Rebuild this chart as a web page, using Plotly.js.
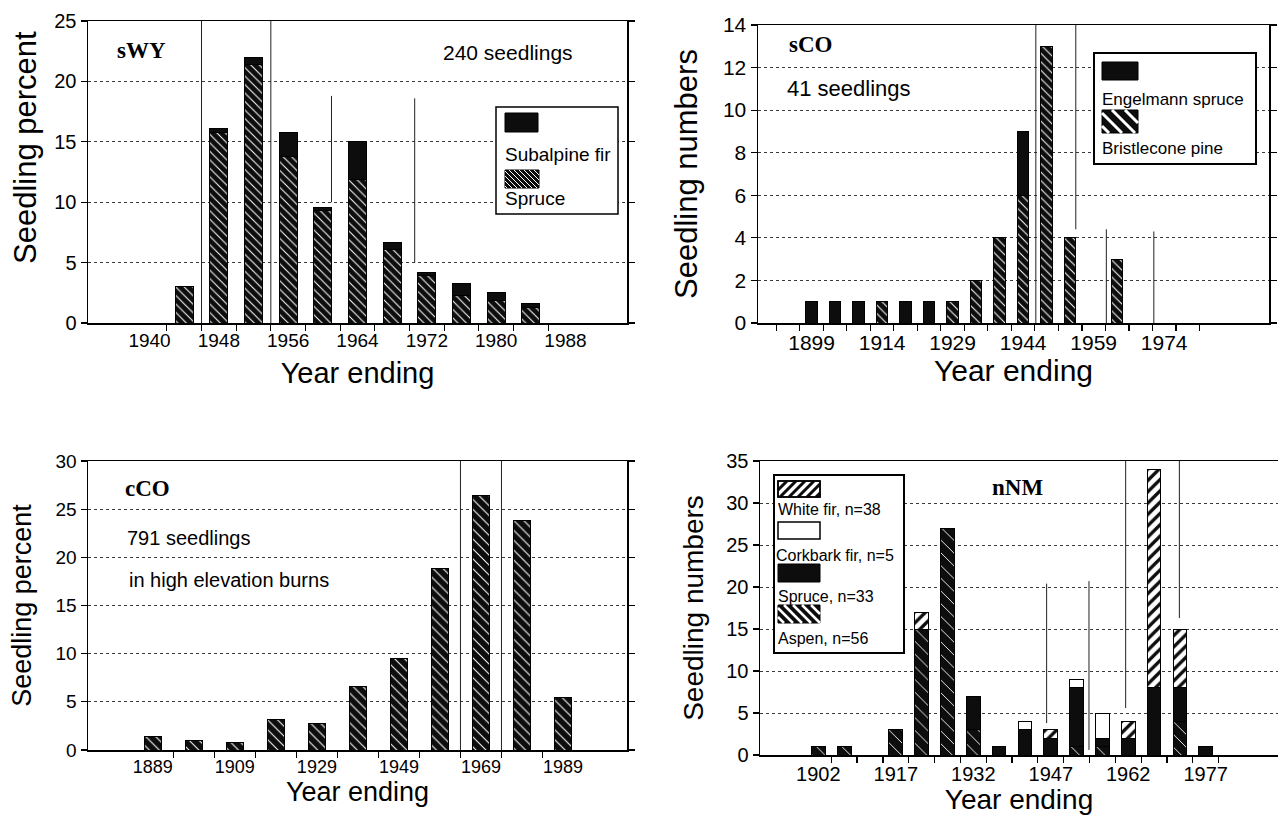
<!DOCTYPE html>
<html><head><meta charset="utf-8">
<script src="https://cdn.plot.ly/plotly-3.0.1.min.js"></script>
<style>html,body{margin:0;padding:0;background:#fff}#chart{width:1278px;height:819px}</style>
</head><body><div id="chart"></div>
<script>
// ---------------- data ----------------
// sWY (percent)
const yearsWY = [1944, 1948, 1952, 1956, 1960, 1964, 1968, 1972, 1976, 1980, 1984];
const spruceWY = [3.0, 15.8, 21.4, 13.8, 9.3, 11.9, 6.1, 3.9, 2.3, 1.9, 1.3];
const subalpineFirWY = [0, 0.3, 0.6, 2.0, 0.3, 3.1, 0.6, 0.3, 1.0, 0.6, 0.3];
const tickYearsWY = [1940, 1948, 1956, 1964, 1972, 1980, 1988];
const markYearsWY = [1946, 1954, 1961, 1970.6];
const markFromWY = [0, 0, 10, 5];
const markToWY = [25, 25, 18.8, 18.6];

// sCO (numbers)
const yearsSCO = [1899, 1904, 1909, 1914, 1919, 1924, 1929, 1934, 1939, 1944, 1949, 1954, 1959, 1964];
const engelmannSCO = [1, 1, 1, 0, 1, 1, 0, 0, 0, 3, 0, 0, 0, 0];
const bristleconeSCO = [0, 0, 0, 1, 0, 0, 1, 2, 4, 6, 13, 4, 0, 3];
const tickYearsSCO = [1899, 1914, 1929, 1944, 1959, 1974];
const markYearsSCO = [1946.7, 1955.2, 1961.7, 1971.8];
const markFromSCO = [0, 4.4, 0, 0];
const markToSCO = [14, 14, 4.4, 4.3];

// cCO (percent)
const yearsCCO = [1889, 1899, 1909, 1919, 1929, 1939, 1949, 1959, 1969, 1979, 1989];
const percentCCO = [1.45, 0.95, 0.8, 3.2, 2.75, 6.55, 9.55, 18.85, 26.45, 23.85, 5.45];
const tickYearsCCO = [1889, 1909, 1929, 1949, 1969, 1989];
const markYearsCCO = [1964, 1974];
const markFromCCO = [0, 0];
const markToCCO = [30, 30];

// nNM (numbers)
const yearsNNM = [1902, 1907, 1912, 1917, 1922, 1927, 1932, 1937, 1942, 1947, 1952, 1957, 1962, 1967, 1972, 1977];
const aspenNNM     = [1, 1, 0, 3, 15, 27, 3, 0, 0, 0, 1, 1, 0, 0, 4, 0];
const spruceNNM    = [0, 0, 0, 0, 0, 0, 4, 1, 3, 2, 7, 1, 2, 8, 4, 1];
const corkbarkNNM  = [0, 0, 0, 0, 0, 0, 0, 0, 1, 0, 1, 3, 0, 0, 0, 0];
const whiteFirNNM  = [0, 0, 0, 0, 2, 0, 0, 0, 0, 1, 0, 0, 2, 26, 7, 0];
const tickYearsNNM = [1902, 1917, 1932, 1947, 1962, 1977];
const markYearsNNM = [1946.2, 1954.4, 1961.5, 1971.9];
const markFromNNM = [3.8, 0.6, 5.6, 16.3];
const markToNNM = [20.4, 20.7, 35, 35];

// ---------------- helpers ----------------
const W = 1278, H = 819;
const px = v => v / W;
const py = v => 1 - v / H;
const nz = arr => arr.map(v => (v === 0 ? null : v));
const steps = (a, b, s) => { const o = []; for (let v = a; v <= b + 1e-9; v += s) o.push(v); return o; };

const SANS = 'Liberation Sans, Arial, sans-serif';
const SERIF = 'Liberation Serif, Times New Roman, serif';
const INK = '#0d0d0d';

function hatchBar(size, sol) {
  return {shape: '\\', bgcolor: INK, fgcolor: '#fff', size: size, solidity: sol, fillmode: 'replace'};
}

function bar(x, y, xa, ya, width, marker) {
  return {type: 'bar', x: x, y: nz(y), xaxis: xa, yaxis: ya, width: width,
          marker: Object.assign({line: {color: '#000', width: 1}}, marker),
          hoverinfo: 'x+y', showlegend: false};
}

const traces = [
  bar(yearsWY, spruceWY, 'x', 'y', 2.1, {color: INK, pattern: hatchBar(6, 0.17)}),
  bar(yearsWY, subalpineFirWY, 'x', 'y', 2.1, {color: INK}),
  bar(yearsSCO, bristleconeSCO, 'x2', 'y2', 2.45, {color: INK, pattern: hatchBar(6, 0.17)}),
  bar(yearsSCO, engelmannSCO, 'x2', 'y2', 2.45, {color: INK}),
  bar(yearsCCO, percentCCO, 'x3', 'y3', 4.2, {color: INK, pattern: hatchBar(7, 0.15)}),
  bar(yearsNNM, aspenNNM, 'x4', 'y4', 2.65, {color: INK, pattern: hatchBar(9, 0.1)}),
  bar(yearsNNM, spruceNNM, 'x4', 'y4', 2.65, {color: INK}),
  bar(yearsNNM, corkbarkNNM, 'x4', 'y4', 2.65, {color: '#fff'}),
  bar(yearsNNM, whiteFirNNM, 'x4', 'y4', 2.65, {color: '#fff',
      pattern: {shape: '/', bgcolor: '#fff', fgcolor: INK, size: 8, solidity: 0.42, fillmode: 'replace'}})
];

function xAxis(d0, d1, range, tickvals, minorvals, anchor, tfs, titleSize, standoff) {
  return {domain: [px(d0), px(d1)], anchor: anchor, range: range, tickmode: 'array',
    tickvals: tickvals, ticktext: tickvals.map(String), ticks: '', showgrid: false,
    zeroline: false, showline: true, linecolor: '#000', linewidth: 1.5, mirror: true,
    tickfont: {family: SANS, size: tfs, color: '#000'},
    minor: {tickmode: 'array', tickvals: minorvals, ticks: 'outside', ticklen: 6, tickwidth: 1.2, tickcolor: '#000', showgrid: false},
    title: {text: 'Year ending', font: {family: SANS, size: titleSize, color: '#000'}, standoff: standoff},
    fixedrange: true};
}
function yAxis(top, bottom, range, dtick, anchor, title, tfs, titleSize, standoff, mirror) {
  return {domain: [py(bottom), py(top)], anchor: anchor, range: range, dtick: dtick, tick0: 0,
    ticks: 'outside', ticklen: 6, tickwidth: 1.2, tickcolor: '#000',
    showgrid: true, gridcolor: '#3a3a3a', griddash: 'dot', gridwidth: 1,
    zeroline: false, showline: true, linecolor: '#000', linewidth: 1.5, mirror: mirror,
    tickfont: {family: SANS, size: tfs, color: '#000'},
    title: {text: title, font: {family: SANS, size: titleSize, color: '#000'}, standoff: standoff},
    fixedrange: true};
}

// vertical marker lines
const shapes = [];
function marks(xs, y0s, y1s, xref, yref) {
  xs.forEach((x, i) => shapes.push({type: 'line', xref: xref, yref: yref, x0: x, x1: x,
    y0: y0s[i], y1: y1s[i], line: {color: '#222', width: 1}, layer: 'above'}));
}
marks(markYearsWY, markFromWY, markToWY, 'x', 'y');
marks(markYearsSCO, markFromSCO, markToSCO, 'x2', 'y2');
marks(markYearsCCO, markFromCCO, markToCCO, 'x3', 'y3');
marks(markYearsNNM, markFromNNM, markToNNM, 'x4', 'y4');

// custom legend pieces (pixel boxes)
function box(x0, y0, x1, y1, fill, lw) {
  shapes.push({type: 'rect', xref: 'paper', yref: 'paper', x0: px(x0), x1: px(x1), y0: py(y1), y1: py(y0),
    fillcolor: fill, line: {color: '#000', width: lw}, layer: 'above'});
}
function hatch(x0, y0, x1, y1, dir, gap, color, lw) {
  let d = '';
  const P = (x, y) => px(x).toFixed(5) + ',' + py(y).toFixed(5);
  if (dir === '\\') {
    for (let c = y0 - x1; c <= y1 - x0; c += gap) {
      const xs = Math.max(x0, y0 - c), xe = Math.min(x1, y1 - c);
      if (xe > xs) d += 'M' + P(xs, xs + c) + 'L' + P(xe, xe + c);
    }
  } else {
    for (let c = x0 + y0; c <= x1 + y1; c += gap) {
      const xs = Math.max(x0, c - y1), xe = Math.min(x1, c - y0);
      if (xe > xs) d += 'M' + P(xs, c - xs) + 'L' + P(xe, c - xe);
    }
  }
  shapes.push({type: 'path', xref: 'paper', yref: 'paper', path: d, line: {color: color, width: lw}, layer: 'above'});
}

const annotations = [];
function label(text, x, y, size, family, bold, angle) {
  annotations.push({xref: 'paper', yref: 'paper', x: px(x), y: py(y),
    xanchor: angle ? 'center' : 'left', yanchor: 'middle', textangle: angle || 0,
    text: bold ? '<b>' + text + '</b>' : text, showarrow: false,
    font: {family: family, size: size, color: '#000'}});
}

// panel texts
label('sWY', 115, 50, 23, SERIF, true);
label('240 seedlings', 441, 53, 21, SANS, false);
label('sCO', 787, 44, 23, SERIF, true);
label('41 seedlings', 785, 88, 22, SANS, false);
label('cCO', 123, 488, 23, SERIF, true);
label('791 seedlings', 125, 538, 20, SANS, false);
label('in high elevation burns', 127, 580, 20, SANS, false);
label('nNM', 990, 487, 23, SERIF, true);
// y title of the sWY panel sits above the axis centre in the original
label('Seedling percent', 25, 148, 31, SANS, false, -90);

// legend sWY
box(496, 107, 618, 214, '#fff', 1.5);
box(505, 113, 538, 132, INK, 1);
label('Subalpine fir', 503, 154, 19, SANS, false);
box(505, 170, 539, 188, INK, 1);
hatch(505, 170, 539, 188, '\\', 5, '#fff', 1);
label('Spruce', 503, 198, 19, SANS, false);

// legend sCO
box(1094, 53, 1256, 164, '#fff', 2);
box(1102, 62, 1138, 80, INK, 1);
label('Engelmann spruce', 1100, 99, 17, SANS, false);
box(1102, 110, 1138, 133, INK, 1);
hatch(1102, 110, 1138, 133, '\\', 13, '#fff', 3);
label('Bristlecone pine', 1100, 148, 17, SANS, false);

// legend nNM
box(774, 475, 904, 653, '#fff', 2);
box(778, 481, 820, 497, '#fff', 1.5);
hatch(778, 481, 820, 497, '/', 9, INK, 3);
box(778, 481, 820, 497, 'rgba(0,0,0,0)', 1.5);
label('White fir, n=38', 776, 509, 16, SANS, false);
box(778, 522, 820, 539, '#fff', 1.5);
label('Corkbark fir, n=5', 774, 555, 16, SANS, false);
box(778, 564, 820, 582, INK, 1);
label('Spruce, n=33', 776, 596, 16, SANS, false);
box(778, 605, 820, 623, INK, 1);
hatch(778, 605, 820, 623, '\\', 9, '#fff', 2.5);
label('Aspen, n=56', 776, 638, 16, SANS, false);

const layout = {
  width: W, height: H, margin: {l: 0, r: 0, t: 0, b: 0},
  paper_bgcolor: '#fff', plot_bgcolor: '#fff', barmode: 'stack', showlegend: false,
  font: {family: SANS, color: '#000'},
  xaxis:  xAxis(88, 627, [1932.9, 1995.1], tickYearsWY, steps(1942, 1986, 4), 'y', 19, 29, 12),
  yaxis:  yAxis(21, 323, [0, 25], 5, 'x', '', 20, 31, 16, 'ticks'),
  xaxis2: xAxis(758, 1269, [1887.6, 1996.3], tickYearsSCO, steps(1891.5, 1981.5, 5), 'y2', 21, 30, 6),
  yaxis2: yAxis(25, 323, [0, 14], 2, 'x2', 'Seedling numbers', 21, 31, 16, 'ticks'),
  xaxis3: xAxis(88, 627, [1873.2, 2004.6], tickYearsCCO, steps(1894, 1984, 10), 'y3', 18, 27, 4),
  yaxis3: yAxis(461, 750, [0, 30], 5, 'x3', 'Seedling percent', 19, 27, 16, 'ticks'),
  xaxis4: xAxis(760, 1278, [1890.7, 1991.0], tickYearsNNM, steps(1904.5, 1979.5, 5), 'y4', 20, 28, 5),
  yaxis4: yAxis(461, 755, [0, 35], 5, 'x4', 'Seedling numbers', 20, 28, 14, false),
  shapes: shapes, annotations: annotations
};

Plotly.newPlot('chart', traces, layout, {displayModeBar: false, staticPlot: true});
</script></body></html>
